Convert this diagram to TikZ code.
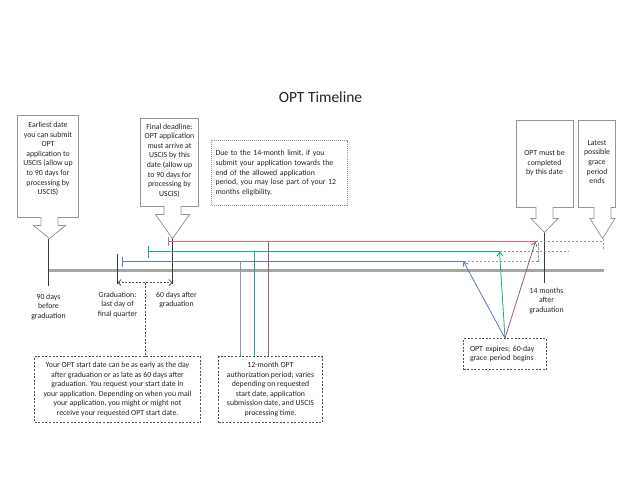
\documentclass[tikz,border=0pt]{standalone}
\usepackage{fontspec}
\setmainfont{Carlito}
\usetikzlibrary{positioning,arrows.meta,calc}
\definecolor{inkgray}{RGB}{35,35,35}
\definecolor{boxgray}{RGB}{150,150,150}
\definecolor{notegray}{RGB}{80,80,80}
\definecolor{tickgray}{RGB}{60,60,60}
\definecolor{linegray}{RGB}{165,165,165}
\definecolor{extgray}{RGB}{150,150,150}
\definecolor{optblue}{RGB}{95,125,175}
\definecolor{optgreen}{RGB}{30,170,120}
\definecolor{optred}{RGB}{220,105,115}
\definecolor{optmauve}{RGB}{150,95,120}

% box with a wide down arrow under it:
% left, top, right, bottom, tip x, neck end y, tip y, head half width
\newcommand{\downcallout}[8]{%
  \draw[callbox] (#1,#2) -- (#3,#2) -- (#3,#4) -- (#5+8.5,#4) -- (#5+8.5,#6)
    -- (#5+#8,#6) -- (#5,#7) -- (#5-#8,#6) -- (#5-8.5,#6) -- (#5-8.5,#4)
    -- (#1,#4) -- cycle;}

\begin{document}
\begin{tikzpicture}[
  x=1pt, y=-1pt,
  font=\fontsize{7.8}{9.6}\selectfont,
  txt/.style={text=inkgray, align=center, inner sep=0pt},
  callbox/.style={draw=boxgray, line width=0.8pt, line join=miter},
  note/.style={draw=notegray, line width=0.7pt, dash pattern=on 2pt off 1.6pt,
               text=inkgray, inner sep=0pt, align=center},
  tickline/.style={draw=tickgray, line width=0.9pt},
  timeline/.style={draw=linegray, line width=2.2pt},
  extline/.style={draw=extgray, line width=0.6pt, dash pattern=on 2.5pt off 1.5pt},
  exparrow/.style={line width=0.8pt, -{Straight Barb[length=4pt,width=6pt]}},
]
\useasboundingbox (-0.5,-0.5) rectangle (639.5,494.5);

% ---- title ----
\node[txt, font=\fontsize{15.5}{18}\selectfont] (title) at (320,97) {OPT Timeline};

% ---- callouts above the line ----
\downcallout{17}{115}{78}{217}{49}{225}{238}{16}
\node[txt] (earliest) at (47.5,158.5)
  {Earliest date\\you can submit\\OPT\\application to\\USCIS (allow up\\to 90 days for\\processing by\\USCIS)};
\downcallout{140}{118}{198}{206}{172}{214}{238}{17}
\node[txt] (deadline) at (169,160)
  {Final deadline:\\OPT application\\must arrive at\\USCIS by this\\date (allow up\\to 90 days for\\processing by\\USCIS)};
\downcallout{516}{120}{573}{207}{544}{218}{232}{13.5}
\node[txt] (complete) at (544,162.5) {OPT must be\\completed\\by this date};
\downcallout{578}{120}{615}{207}{602}{218}{238}{12.5}
\node[txt] (graceend) at (596.5,161.5) {Latest\\possible\\grace\\period\\ends};

\node[note, dash pattern=on 1pt off 1pt, draw=boxgray, minimum width=136pt,
      minimum height=65pt, text width=128pt, align=left] (limit) at (279,172.5)
  {Due to the 14-month limit, if you\\submit your application towards the\\end of the allowed application\\period, you may lose part of your 12\\months eligibility.};

% ---- timeline and ticks ----
\coordinate (tlstart) at (48,270);
\coordinate (tlend) at (603,270);
\draw[timeline] (tlstart) -- (tlend);

\coordinate (t90top) at (48,238);   \coordinate (t90bot) at (48,285);
\coordinate (tgradtop) at (117,253); \coordinate (tgradbot) at (117,283);
\coordinate (t60top) at (172,238);  \coordinate (t60bot) at (172,283);
\coordinate (t14top) at (544,232);  \coordinate (t14bot) at (544,282);
\draw[tickline] (t90top) -- (t90bot);
\draw[tickline, line width=1.4pt] (tgradtop) -- (tgradbot);
\draw[tickline] (t60top) -- (t60bot);
\draw[tickline] (t14top) -- (t14bot);

\node[txt, below=8pt of t90bot] (l90) {90 days\\before\\graduation};
\node[txt, below=8pt of tgradbot] (lgrad) {Graduation:\\last day of\\final quarter};
\node[txt, below=8pt of t60bot, xshift=4pt] (l60) {60 days after\\graduation};
\node[txt, below=5pt of t14bot, xshift=2pt] (l14) {14 months\\after\\graduation};

% ---- start date window ----
\coordinate (gradleft) at (117,282);
\coordinate (gradright) at (172,282);
\coordinate (gradmid) at (145,282);
\draw[draw=notegray, line width=0.8pt, dash pattern=on 2pt off 1.5pt,
      {Straight Barb[length=3pt,width=6pt]}-{Straight Barb[length=3pt,width=6pt]}]
  (gradleft) -- (gradright);

\node[note, minimum width=166pt, minimum height=66pt] (startnote) at (117,389)
  {Your OPT start date can be as early as the day\\after graduation or as late as 60 days after\\graduation. You request your start date in\\your application. Depending on when you mail\\your application, you might or might not\\receive your requested OPT start date.};
\draw[draw=notegray, line width=0.8pt, dash pattern=on 2pt off 1.5pt]
  (gradmid) -- (gradmid |- startnote.north);

% ---- three 12-month periods ----
\coordinate (bluestart) at (121,261);  \coordinate (blueend) at (463,261);  \coordinate (bluegap) at (538,261);
\coordinate (greenstart) at (147,251); \coordinate (greenend) at (499,251); \coordinate (greengap) at (568,251);
\coordinate (redstart) at (167,241);   \coordinate (redend) at (535,241);   \coordinate (redgap) at (603,241);
\draw[optblue, line width=1pt, {Bar[width=10pt]}-] (bluestart) -- (blueend);
\draw[optgreen, line width=1pt, {Bar[width=12pt]}-] (greenstart) -- (greenend);
\draw[optred, line width=1pt, {Bar[width=9pt]}-] (redstart) -- (redend);

\draw[extline] (blueend) -- (bluegap);
\draw[extline] (greenend) -- (greengap);
\draw[extline] (redend) -- (redgap);
\draw[extline] (bluegap) -- (bluegap |- redend);
\coordinate (gracetip) at (603,238);
\coordinate (gracelow) at (603,250);
\draw[extline] (gracetip) -- (gracelow);

\node[note, minimum width=104pt, minimum height=66pt] (span) at (270,389)
  {12-month OPT\\authorization period; varies\\depending on requested\\start date, application\\submission date, and USCIS\\processing time.};
\coordinate (bluedrop) at (240,261);
\coordinate (greendrop) at (254,251);
\coordinate (reddrop) at (268,241);
\draw[optblue!80, line width=0.8pt] (bluedrop) -- (bluedrop |- span.north);
\draw[optgreen, line width=0.8pt] (greendrop) -- (greendrop |- span.north);
\draw[optmauve, line width=0.8pt] (reddrop) -- (reddrop |- span.north);

% ---- expiry ----
\node[note, minimum width=83pt, minimum height=31pt, text width=70pt, align=left]
  (expires) at (504.5,353.5) {OPT expires; 60-day\\grace period begins};
\draw[exparrow, optblue] (expires.north) -- (blueend);
\draw[exparrow, optgreen] (expires.north) -- (greenend);
\draw[exparrow, optmauve] (expires.north) -- (redend);

\end{tikzpicture}
\end{document}
